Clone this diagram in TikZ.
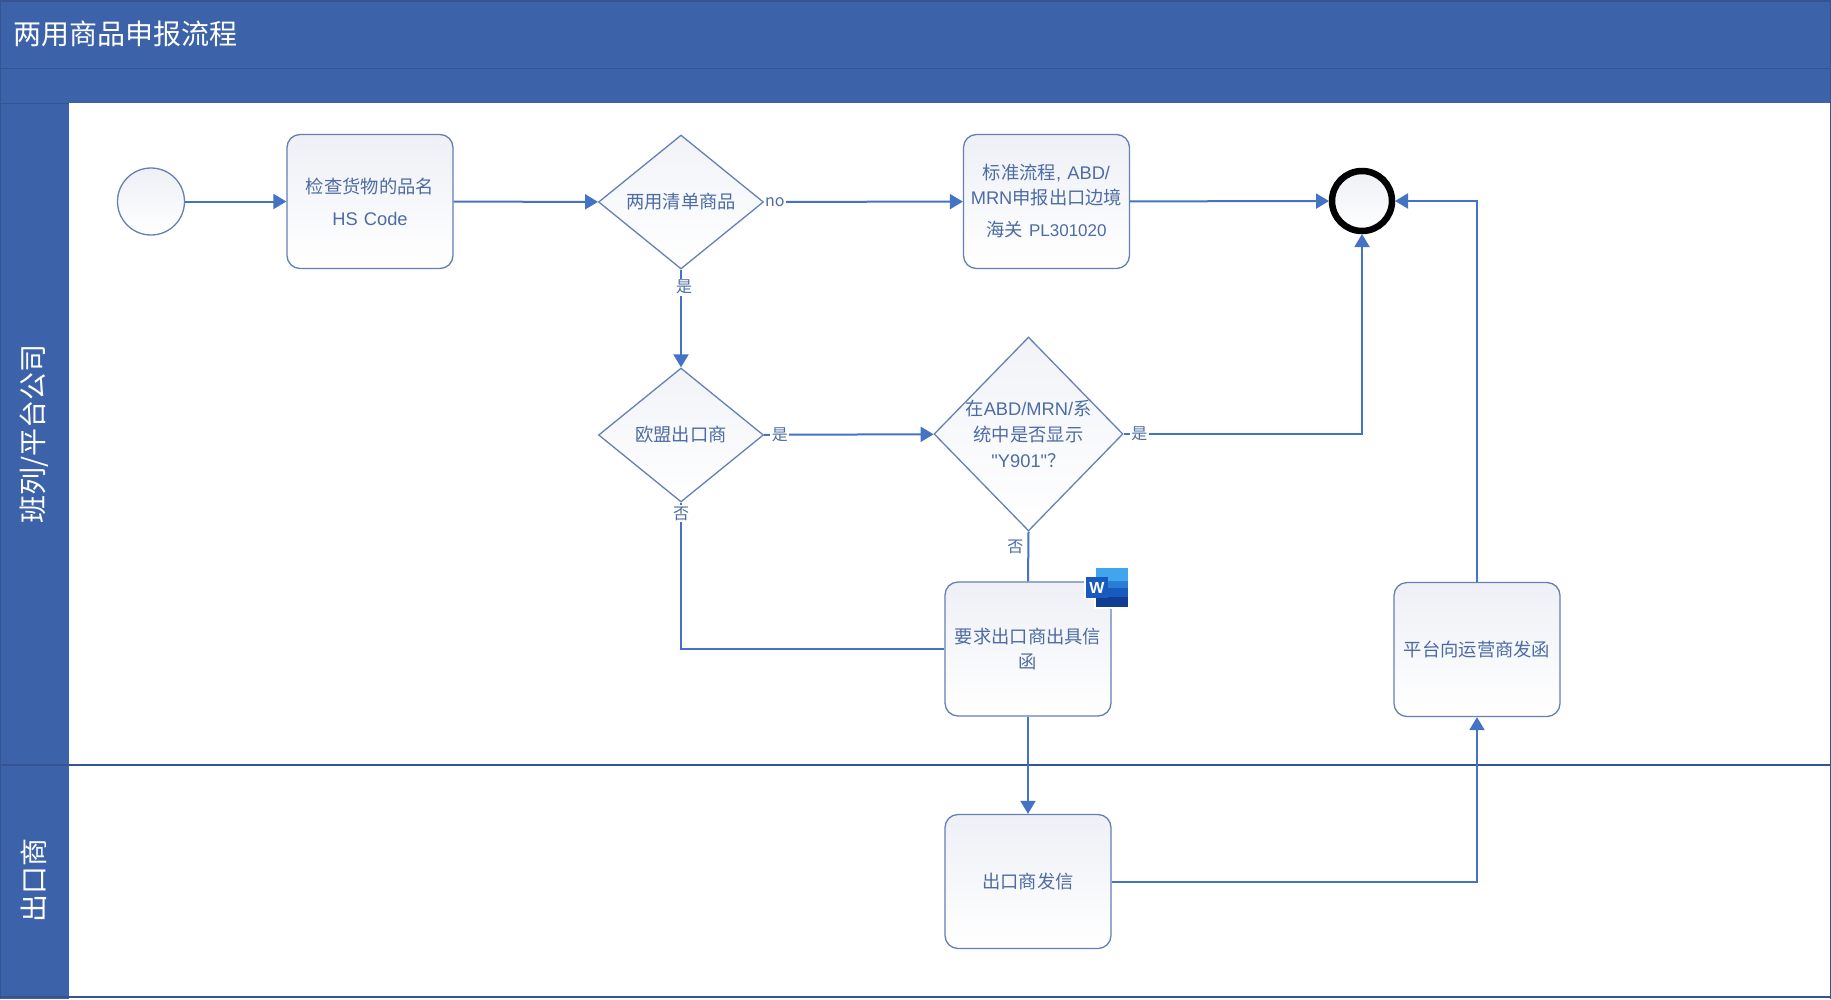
\documentclass[tikz,border=0pt]{standalone}
\usepackage{fontspec}
\setmainfont{Noto Sans CJK SC}
\newfontfamily\lat{Liberation Sans}
\usetikzlibrary{shapes.geometric,arrows.meta}
\definecolor{band}{HTML}{3C62AA}
\definecolor{bandline}{HTML}{345591}
\definecolor{flow}{HTML}{4472C4}
\definecolor{edgeline}{HTML}{6480B4}
\definecolor{txt}{HTML}{4D6CA3}
\definecolor{shadetop}{HTML}{EEF0F6}
\tikzset{
  x=1pt,y=-1pt,
  taskbox/.style={draw=edgeline,line width=1.3pt,rounded corners=13pt,minimum width=166pt,minimum height=134pt,
    top color=shadetop,bottom color=white,text=txt,align=center,font=\fontsize{18.3}{25}\selectfont,inner sep=2pt,text width=158pt},
  gate/.style={diamond,draw=edgeline,line width=1.3pt,inner sep=0pt,top color=shadetop!80,bottom color=white},
  gatetext/.style={text=txt,align=center,font=\fontsize{18.3}{26}\selectfont,inner sep=0pt},
  flowline/.style={draw=flow,line width=2pt},
  flowarrow/.style={flowline,-{Triangle[length=13pt,width=15pt]}},
  elabel/.style={text=txt,fill=white,font=\fontsize{16}{18}\selectfont,inner sep=1.5pt},
  lanetext/.style={text=white,font=\fontsize{28}{30}\selectfont,rotate=90,inner sep=0pt},
}
\begin{document}
\begin{tikzpicture}
\useasboundingbox (0,0) rectangle (1831,999);
\fill[white] (0,0) rectangle (1831,999);
% header and lanes
\fill[band] (0,0) rectangle (1831,103);
\fill[band] (0,103) rectangle (69,999);
\draw[bandline,line width=1pt] (0,68) -- (1831,68);
\draw[bandline,line width=1pt] (0,103) -- (69,103);
\draw[bandline,line width=1.5pt] (0,765) -- (1831,765);
\draw[bandline,line width=1.5pt] (0,997) -- (1831,997);
\draw[bandline,line width=1pt] (0.5,0) -- (0.5,999);
\draw[bandline,line width=1pt] (1830.5,0) -- (1830.5,999);
\draw[bandline,line width=1.5pt] (0,1) -- (1831,1);
\node[anchor=west,text=white,font=\fontsize{28}{30}\selectfont,inner sep=0pt] (title) at (13,34) {两用商品申报流程};
\node[lanetext] (lane1) at (34,434) {班列/平台公司};
\node[lanetext] (lane2) at (34,880) {出口商};
% events
\node[circle,draw=edgeline,line width=1.3pt,minimum size=67pt,inner sep=0pt,top color=shadetop,bottom color=white] (start) at (151,201.5) {};
\node[circle,draw=black,line width=6.5pt,minimum size=60pt,inner sep=0pt,top color=shadetop,bottom color=white,outer sep=3pt] (endc) at (1362,201) {};
% tasks
\node[taskbox] (check) at (370,201.5) {检查货物的品名\\[7pt]{\lat HS Code}};
\node[taskbox] (std) at (1046.5,201.5) {标准流程{\lat , ABD/}\\{\lat MRN}申报出口边境\\[7pt]海关 {\lat\fontsize{17}{25}\selectfont PL301020}};
\node[taskbox] (ask) at (1028,649) {要求出口商出具信\\函};
\node[taskbox] (send) at (1028,881.5) {出口商发信};
\node[taskbox] (plat) at (1477,649.5) {平台向运营商发函};
% gateways
\node[gate,minimum width=165pt,minimum height=134pt,label={[gatetext]center:两用清单商品}] (d1) at (681,202) {};
\node[gate,minimum width=165pt,minimum height=134pt,label={[gatetext]center:欧盟出口商}] (d2) at (681,435) {};
\node[gate,minimum width=189pt,minimum height=194pt,label={[gatetext]center:在{\lat ABD/MRN/}系\\统中是否显示\\{\lat "Y901"}？}] (d3) at (1028.5,434) {};
% connectors
\draw[flowarrow] (start) -- (check);
\draw[flowarrow] (check) -- (d1);
\draw[flowarrow] (d1) -- node[elabel,pos=.055]{no} (std);
\draw[flowarrow] (std) -- (endc);
\draw[flowarrow] (d1) -- node[elabel,pos=.18,xshift=3pt]{是} (d2);
\draw[flowarrow] (d2) -- node[elabel,pos=.094]{是} (d3);
\draw[flowarrow] (d3.east) -| node[elabel,pos=.033]{是} (endc.south);
\draw[flowline] (d3.south) -- node[elabel,pos=.3,xshift=-13pt,fill=none]{否} (ask.north);
\draw[flowline] (d2.south) |- node[elabel,pos=.037]{否} (ask.west);
\draw[flowarrow] (ask.south) -- (send.north);
\draw[flowarrow] (send.east) -| (plat.south);
\draw[flowarrow] (plat.north) |- (endc.east);
% Word icon
\fill[white] (1084,576) rectangle (1096,599);
\fill[white] (1094,566) rectangle (1130,609);
\fill[color={rgb,255:red,65;green,165;blue,238}] (1096,568) rectangle (1128,581);
\fill[color={rgb,255:red,43;green,124;blue,211}] (1096,581) rectangle (1128,588);
\fill[color={rgb,255:red,24;green,90;blue,189}] (1096,588) rectangle (1128,597);
\fill[color={rgb,255:red,16;green,63;blue,145}] (1096,597) rectangle (1128,607);
\node[fill={rgb,255:red,24;green,90;blue,189},text=white,minimum width=22pt,minimum height=21pt,inner sep=0pt,font=\lat\bfseries\fontsize{16}{16}\selectfont] (word) at (1097,587.5) {W};
\end{tikzpicture}
\end{document}
